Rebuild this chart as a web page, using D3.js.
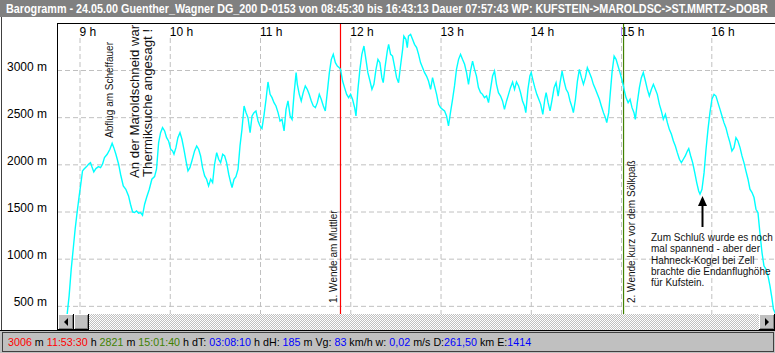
<!DOCTYPE html>
<html>
<head>
<meta charset="utf-8">
<script src="https://cdn.jsdelivr.net/npm/d3@7"></script>
<style>
  body { margin: 0; background: #fff; }
  svg { display: block; font-family: "Liberation Sans", Arial, sans-serif; }
</style>
</head>
<body>
<svg id="chart" width="775" height="353"></svg>
<script>
// Barogramm: [Minuten seit 0 Uhr, Höhe in m]
// Abflug bis 1. Wende (Muttler)
const legOne = [
  [525.5,350],[529.5,360],[531.8,412],[533.1,606],[534.5,889],[535.8,1100],[537.1,1312],[538.4,1489],[539.8,1665],[540.7,1771],
  [542.0,1930],[542.9,1948],[544.7,1976],[546.0,2001],[547.3,2018],[548.2,1976],[549.5,1920],[550.9,1955],[552.6,1976],[554.0,1965],
  [555.3,2001],[556.6,2071],[558.4,2107],[560.2,2160],[561.7,2223],[562.8,2177],[564.2,2107],[566.0,2001],[567.3,1895],[569.1,1771],
  [570.8,1736],[572.6,1665],[573.9,1577],[575.3,1496],[576.6,1489],[577.9,1506],[579.3,1482],[580.6,1489],[581.9,1460],[583.3,1577],
  [584.6,1648],[586.4,1736],[588.1,1842],[589.9,1870],[591.2,1948],[592.6,2230],[593.9,2336],[595.2,2389],[596.6,2354],[597.9,2283],
  [599.2,2248],[600.6,2160],[601.9,2142],[602.8,2107],[604.1,2177],[605.4,2283],[606.8,2336],[608.1,2266],[609.4,2160],[610.8,2036],
  [612.1,1930],[613.4,1965],[614.7,2036],[616.5,2142],[617.9,2195],[619.2,2160],[620.5,2089],[621.8,1965],[623.2,1877],[624.5,1842],
  [625.8,1771],[627.2,1842],[628.5,1807],[629.8,2001],[631.2,2124],[632.5,2054],[633.8,2018],[635.2,2107],[636.5,2089],[637.8,2018],
  [639.2,1895],[640.5,1807],[641.4,1754],[642.7,1842],[644.0,1870],[645.4,1948],[646.7,2195],[648.0,2371],[649.4,2619],[650.7,2548],
  [652.0,2495],[653.4,2336],[654.7,2513],[656.0,2548],[657.3,2566],[658.7,2460],[660.0,2407],[661.3,2379],[662.6,2513],[664.0,2689],
  [665.3,2873],[666.7,2742],[668.0,2707],[669.3,2654],[670.6,2619],[672.0,2548],[673.3,2460],[674.6,2477],[676.0,2354],[677.3,2583],
  [678.6,2672],[680.0,2513],[681.3,2477],[682.6,2742],[684.0,2972],[684.8,2848],[686.1,2742],[687.4,2672],[688.7,2760],[690.1,2831],
  [691.4,2795],[692.7,2742],[694.1,2672],[695.4,2619],[696.8,2601],[698.1,2654],[699.4,2742],[700.7,2689],[702.1,2619],[703.4,2566],
  [704.7,2760],[706.1,2972],[707.4,3113],[708.7,3166],[710.1,3078],[711.4,3042],[712.7,3025],[713.5,3007]
];
// 1. Wende bis 2. Wende (Sölkpaß)
const legTwo = [
  [714.9,2883],[716.2,2813],[717.6,2742],[718.9,2707],[720.2,2742],[721.5,2689],[722.9,2601],[723.8,2513],[725.1,2795],[726.4,3007],
  [727.7,3166],[729.1,3254],[730.4,3113],[731.7,2972],[733.1,2883],[734.4,2795],[735.7,2848],[737.1,3007],[738.4,3113],[739.7,3078],
  [741.0,2919],[741.9,2866],[743.2,3042],[744.6,3201],[745.5,3272],[746.8,3166],[748.1,3148],[749.4,3042],[750.8,2919],[752.1,2866],
  [753.4,3042],[754.8,3219],[755.6,3360],[757.0,3325],[757.9,3237],[758.7,3360],[760.1,3378],[761.4,3325],[762.7,3272],[764.1,3237],
  [765.4,3166],[766.7,3078],[768.1,3025],[769.4,2972],[770.7,2936],[772.0,2883],[773.4,2795],[774.7,2919],[776.0,2831],[777.4,2742],
  [778.7,2636],[780.0,2601],[781.3,2583],[782.7,2566],[784.0,2513],[785.3,2407],[786.6,2548],[788.0,2689],[789.3,2831],[790.6,3007],
  [792.0,3113],[793.3,3166],[794.6,3113],[796.0,3060],[797.3,2972],[798.6,2848],[799.9,2989],[801.3,3095],[802.6,3007],[803.9,2936],
  [805.2,2813],[806.6,2760],[807.9,2742],[809.2,2707],[810.6,2724],[811.9,2654],[813.2,2795],[814.6,2936],[815.9,2989],[817.2,2848],
  [818.5,2760],[819.9,2724],[821.2,2672],[822.5,2583],[823.9,2672],[825.2,2742],[826.5,2813],[827.9,2873],[829.2,2795],[830.5,2873],
  [831.9,2831],[833.2,2760],[834.5,2672],[835.8,2619],[836.7,2548],[838.1,2795],[839.4,2936],[840.3,2972],[841.3,2901],[842.7,2813],
  [844.0,2742],[845.3,2689],[846.6,2636],[848.0,2530],[849.3,2689],[850.2,2760],[851.5,2654],[852.8,2566],[854.2,2689],[855.5,2813],
  [856.8,2866],[858.2,2724],[859.5,2866],[860.8,2989],[862.1,2883],[863.5,2795],[864.8,2760],[866.1,2672],[867.5,2601],[868.3,2548],
  [869.7,2689],[871.0,2883],[872.3,3007],[873.7,2919],[875.0,2848],[876.3,2919],[877.6,3025],[879.0,2972],[880.3,2919],[881.6,2848],
  [883.0,2795],[884.3,2742],[885.6,2689],[886.9,2619],[888.3,2548],[889.6,2495],[890.5,2442],[891.8,2548],[892.7,2724],[894.0,2972],
  [895.4,3148],[896.7,3113],[898.0,3042],[899.3,2972],[900.8,2883],[901.7,2821]
];
// Heimflug nach Kufstein
const legHome = [
  [902.0,2795],[903.3,2707],[904.7,2654],[906.0,2689],[907.3,2601],[908.6,2548],[909.5,2477],[910.8,2654],[912.2,2813],[913.5,2919],
  [914.8,2972],[916.2,2883],[917.5,2795],[918.8,2724],[920.2,2795],[921.5,2848],[922.8,2795],[924.1,2742],[925.5,2636],[926.8,2566],
  [928.1,2477],[929.5,2530],[930.8,2442],[932.1,2371],[933.5,2319],[934.8,2248],[936.1,2195],[937.4,2124],[938.8,2054],[940.1,2018],
  [941.4,2054],[942.7,2089],[944.1,2142],[945.0,2167],[946.3,2089],[947.6,2018],[949.0,1912],[950.3,1807],[951.6,1718],[952.5,1683],
  [953.8,1736],[955.2,1912],[956.5,2160],[957.8,2371],[959.1,2548],[960.4,2689],[961.8,2742],[963.1,2724],[964.4,2654],[965.8,2583],
  [967.1,2513],[968.4,2442],[969.7,2389],[971.1,2301],[972.4,2230],[973.7,2142],[975.1,2177],[976.4,2283],[977.7,2248],[979.1,2177],
  [980.4,2089],[981.7,2018],[983.0,1930],[984.4,1842],[985.7,1736],[987.1,1701],[988.4,1648],[989.7,1524],[991.0,1489],[992.3,1277],
  [993.7,1065],[995.0,924],[996.3,889],[997.7,818],[999.0,712],[1000.4,571],[1001.3,465],[1002.3,430],[1003.2,380]
];

const hourTicks = [9, 10, 11, 12, 13, 14, 15, 16];
const altTicks = [500, 1000, 1500, 2000, 2500, 3000];
const turnMinutes = [713.5, 901.67];   // 11:53:30, 15:01:40

const titleText = "Barogramm - 24.05.00 Guenther_Wagner DG_200 D-0153 von 08:45:30 bis 16:43:13 Dauer 07:57:43 WP: KUFSTEIN->MAROLDSC->ST.MMRTZ->DOBR";

// Statuszeile: [Text, Farbe]
const statusParts = [
  ["3006", "red"], [" m ", "k"], ["11:53:30", "red"], [" h ", "k"],
  ["2821", "grn"], [" m ", "k"], ["15:01:40", "grn"], [" h dT: ", "k"],
  ["03:08:10", "blu"], [" h dH: ", "k"], ["185", "blu"], [" m Vg: ", "k"],
  ["83", "blu"], [" km/h w: ", "k"], ["0,02", "blu"], [" m/s D:", "k"],
  ["261,50", "blu"], [" km E:", "k"], ["1414", "blu"]
];
const statusColors = { red: "#ff0000", grn: "#408000", blu: "#0000ff", k: "#000000" };

const svg = d3.select("#chart");
const plotL = 57, plotR = 775, plotT = 23, plotB = 314;

const x = d3.scaleLinear().domain([540, 960]).range([79.5, 711.3]);
const y = d3.scaleLinear().domain([0, 3000]).range([353, 70]);

svg.append("rect").attr("width", 775).attr("height", 353).attr("fill", "#fff");

// Titelleiste
svg.append("rect").attr("x", 0).attr("y", 0).attr("width", 775).attr("height", 17).attr("fill", "#808080");
const title = svg.append("text")
  .attr("x", 0).attr("y", 0)
  .attr("fill", "#fff")
  .style("font-weight", "bold")
  .style("font-size", "12px")
  .text(titleText);
// schmale Systemschrift nachahmen: horizontal stauchen
const titleW = title.node().getComputedTextLength();
title.attr("transform", "translate(6,13) scale(" + (762 / titleW).toFixed(4) + ",1)");

// Gitterlinien
svg.append("g")
  .attr("transform", "translate(0,38)")
  .call(d3.axisBottom(x).tickValues(hourTicks.map(h => h * 60)).tickSize(plotB - 38).tickFormat(""))
  .call(g => g.select(".domain").remove())
  .selectAll(".tick line")
  .attr("stroke", "#c0c0c0")
  .attr("stroke-dasharray", "5,3");

svg.append("g")
  .attr("transform", "translate(" + plotL + ",0)")
  .call(d3.axisRight(y).tickValues(altTicks).tickSize(plotR - plotL).tickFormat(""))
  .call(g => g.select(".domain").remove())
  .selectAll(".tick line")
  .attr("stroke", "#c0c0c0")
  .attr("stroke-dasharray", "5,3");

// Achsenbeschriftung
svg.append("g").selectAll("text")
  .data(hourTicks)
  .join("text")
  .attr("x", d => x(d * 60))
  .attr("y", 36)
  .style("font-size", "12px")
  .text(d => d + " h");

svg.append("g").selectAll("text")
  .data(altTicks)
  .join("text")
  .attr("x", 47)
  .attr("y", d => y(d) + 0.5)
  .attr("text-anchor", "end")
  .style("font-size", "12px")
  .text(d => d + " m");

// Rahmen
svg.append("line").attr("x1", plotL).attr("x2", plotR).attr("y1", plotT + 0.5).attr("y2", plotT + 0.5).attr("stroke", "#000");
svg.append("line").attr("x1", plotL + 0.5).attr("x2", plotL + 0.5).attr("y1", plotT).attr("y2", 331).attr("stroke", "#000");
svg.append("line").attr("x1", 1.5).attr("x2", 1.5).attr("y1", 17).attr("y2", 331).attr("stroke", "#404040");

// Wendepunkte
svg.append("line")
  .attr("x1", x(turnMinutes[0])).attr("x2", x(turnMinutes[0]))
  .attr("y1", plotT + 1).attr("y2", plotB)
  .attr("stroke", "#ff0000").attr("stroke-width", 1.2);
svg.append("line")
  .attr("x1", x(turnMinutes[1])).attr("x2", x(turnMinutes[1]))
  .attr("y1", plotT + 1).attr("y2", plotB)
  .attr("stroke", "#408000").attr("stroke-width", 1.2);
svg.append("line")
  .attr("x1", x(900) + 0.5).attr("x2", x(900) + 0.5)
  .attr("y1", 27).attr("y2", 36)
  .attr("stroke", "#b890ff");

// Barogramm-Kurve
svg.append("clipPath").attr("id", "plotclip")
  .append("rect").attr("x", plotL + 1).attr("y", plotT + 1).attr("width", plotR - plotL).attr("height", plotB - plotT - 1);

const line = d3.line().x(d => x(d[0])).y(d => y(d[1]));
svg.append("path")
  .datum(legOne.concat(legTwo, legHome))
  .attr("d", line)
  .attr("clip-path", "url(#plotclip)")
  .attr("fill", "none")
  .attr("stroke", "#00ffff")
  .attr("stroke-width", 1.4);

// Kommentare
function vtext(tx, ty, size, str) {
  svg.append("text")
    .attr("transform", "translate(" + tx + "," + ty + ") rotate(-90)")
    .style("font-size", size + "px")
    .attr("fill", "#111")
    .text(str);
}
vtext(113, 138, 10, "Abflug am Scheffauer");
vtext(139, 178, 13.2, "An der Maroldschneid war");
vtext(151.5, 177, 13.2, "Thermiksuche angesagt !");
vtext(336.5, 303, 10, "1. Wende am Muttler");
vtext(635, 303, 10, "2. Wende kurz vor dem Sölkpaß");

const note = ["Zum Schluß wurde es noch", "mal spannend - aber der", "Hahneck-Kogel bei Zell", "brachte die Endanflughöhe", "für Kufstein."];
svg.append("g").selectAll("text")
  .data(note)
  .join("text")
  .attr("x", 651)
  .attr("y", (d, i) => 241 + i * 11.25)
  .style("font-size", "10px")
  .attr("fill", "#111")
  .text(d => d);

// Pfeil
svg.append("line").attr("x1", 702.5).attr("x2", 702.5).attr("y1", 227).attr("y2", 203).attr("stroke", "#000").attr("stroke-width", 2);
svg.append("path").attr("d", "M702.5,196 L698,206 L707,206 Z").attr("fill", "#000");

// Scrollbalken
const defs = svg.append("defs");
const pat = defs.append("pattern").attr("id", "dither").attr("width", 2).attr("height", 2).attr("patternUnits", "userSpaceOnUse");
pat.append("rect").attr("width", 2).attr("height", 2).attr("fill", "#c0c0c0");
pat.append("rect").attr("width", 1).attr("height", 1).attr("fill", "#fff");
pat.append("rect").attr("x", 1).attr("y", 1).attr("width", 1).attr("height", 1).attr("fill", "#fff");

svg.append("rect").attr("x", plotL + 1).attr("y", plotB).attr("width", plotR - plotL).attr("height", 16)
  .attr("fill", "url(#dither)").attr("shape-rendering", "crispEdges");

function button(bx, bw, arrow) {
  const g = svg.append("g").attr("shape-rendering", "crispEdges");
  g.append("rect").attr("x", bx).attr("y", plotB).attr("width", bw).attr("height", 16).attr("fill", "#c0c0c0");
  g.append("path").attr("d", `M${bx + 0.5},${plotB + 15} V${plotB + 0.5} H${bx + bw - 1}`).attr("fill", "none").attr("stroke", "#fff");
  g.append("path").attr("d", `M${bx + 1},${plotB + 14.5} H${bx + bw - 1.5} V${plotB + 1}`).attr("fill", "none").attr("stroke", "#808080");
  g.append("path").attr("d", `M${bx},${plotB + 15.5} H${bx + bw - 0.5} V${plotB}`).attr("fill", "none").attr("stroke", "#000");
  const cx = bx + bw / 2, cy = plotB + 8;
  if (arrow === "left") g.append("path").attr("d", `M${cx - 2},${cy} L${cx + 2},${cy - 4} L${cx + 2},${cy + 4} Z`).attr("fill", "#000").attr("shape-rendering", "auto");
  if (arrow === "right") g.append("path").attr("d", `M${cx + 2},${cy} L${cx - 2},${cy - 4} L${cx - 2},${cy + 4} Z`).attr("fill", "#000").attr("shape-rendering", "auto");
}
button(58, 16, "left");
button(74, 15, null);
button(759, 16, "right");

svg.append("line").attr("x1", 0).attr("x2", 775).attr("y1", 330.5).attr("y2", 330.5).attr("stroke", "#000");

// Statuszeile
svg.append("rect").attr("x", 0).attr("y", 331).attr("width", 775).attr("height", 22).attr("fill", "#c0c0c0");
svg.append("rect").attr("x", 2.5).attr("y", 332.5).attr("width", 771).attr("height", 19)
  .attr("fill", "none").attr("stroke", "#404040");

const status = svg.append("text").attr("x", 8).attr("y", 346).attr("xml:space", "preserve").style("font-size", "12px");
status.selectAll("tspan")
  .data(statusParts)
  .join("tspan")
  .attr("fill", d => statusColors[d[1]])
  .style("white-space", "pre")
  .text(d => d[0]);
const natural = status.node().getComputedTextLength();
status.style("font-size", (12 * 523 / natural).toFixed(2) + "px");
</script>
</body>
</html>
